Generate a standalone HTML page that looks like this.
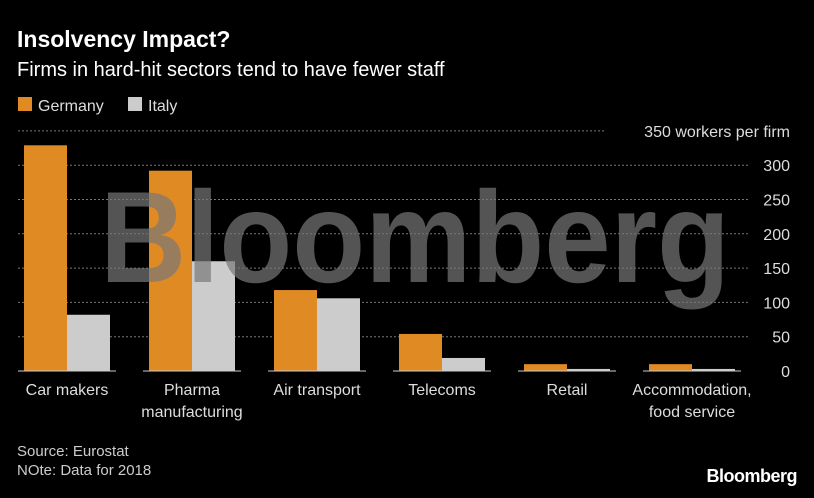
<!DOCTYPE html>
<html><head><meta charset="utf-8"><style>
body{margin:0;background:#000;width:814px;height:493px;overflow:hidden;font-family:"Liberation Sans",sans-serif;color:#ddd}
</style></head><body>
<svg width="814" height="493" xmlns="http://www.w3.org/2000/svg">
<text x="17" y="47" fill="#fff" font-size="23" font-weight="bold">Insolvency Impact?</text>
<text x="17" y="76" fill="#fff" font-size="20">Firms in hard-hit sectors tend to have fewer staff</text>
<g>
<rect x="18" y="97" width="14" height="14" fill="#e08a23"/>
<text x="38" y="111" fill="#ddd" font-size="16">Germany</text>
<rect x="128" y="97" width="14" height="14" fill="#cccccc"/>
<text x="148" y="111" fill="#ddd" font-size="16">Italy</text>
</g>
<g id="grid"></g>
<g id="bars"></g>
<text x="100" y="282" textLength="630" lengthAdjust="spacingAndGlyphs" fill="#777" fill-opacity="0.7" font-size="130" font-weight="bold">Bloomberg</text>
<g id="labels"></g>
<text x="17" y="456" fill="#ccc" font-size="15">Source: Eurostat</text>
<text x="17" y="475" fill="#ccc" font-size="15">NOte: Data for 2018</text>
<text x="797" y="482" text-anchor="end" fill="#fff" font-size="18" font-weight="bold" letter-spacing="-0.5">Bloomberg</text>
</svg>
<script>
const categories=["Car makers","Pharma|manufacturing","Air transport","Telecoms","Retail","Accommodation,|food service"];
const germany=[329,292,118,54,10,10];
const italy=[82,160,106,19,3,3];
const ticks=[0,50,100,150,200,250,300,350];
const NS="http://www.w3.org/2000/svg";
const y0=371,yScale=0.686;
function y(v){return y0-v*yScale;}
function x(i){return 24+i*125;}
const grid=document.getElementById('grid');
ticks.forEach(t=>{
 if(t>0){const l=document.createElementNS(NS,'line');
 l.setAttribute('x1',18);l.setAttribute('x2',t===350?605:750);l.setAttribute('y1',y(t));l.setAttribute('y2',y(t));
 l.setAttribute('stroke','#777');l.setAttribute('stroke-dasharray','2,2');
 
 
 grid.appendChild(l);}
 const tx=document.createElementNS(NS,'text');
 tx.setAttribute('x',790);tx.setAttribute('y',y(t)+6);tx.setAttribute('text-anchor','end');
 tx.setAttribute('fill','#ddd');tx.setAttribute('font-size','16');
 tx.textContent=t===350?'350 workers per firm':String(t);
 
 
 grid.appendChild(tx);
});
const bars=document.getElementById('bars');
function bar(xp,v,c,name){const r=document.createElementNS(NS,'rect');
 r.setAttribute('x',xp);r.setAttribute('y',y(v));r.setAttribute('width',43);r.setAttribute('height',v*yScale);r.setAttribute('fill',c);
 
 
 bars.appendChild(r);}
const lbl=document.getElementById('labels');
categories.forEach((c,i)=>{
 bar(x(i),germany[i],'#e08a23','bar-germany-'+i);
 bar(x(i)+43,italy[i],'#cccccc','bar-italy-'+i);
 const base=document.createElementNS(NS,'line');
 base.setAttribute('x1',x(i)-6);base.setAttribute('x2',x(i)+92);base.setAttribute('y1',y0);base.setAttribute('y2',y0);
 base.setAttribute('stroke','#ccc');base.setAttribute('stroke-width','1');
 
 
 bars.appendChild(base);
 c.split('|').forEach((line,j)=>{
  const t=document.createElementNS(NS,'text');
  t.setAttribute('x',x(i)+43);t.setAttribute('y',395+j*22);t.setAttribute('text-anchor','middle');
  t.setAttribute('fill','#ddd');t.setAttribute('font-size','16');t.textContent=line;
  
  
  lbl.appendChild(t);
 });
});
</script>
</body></html>
